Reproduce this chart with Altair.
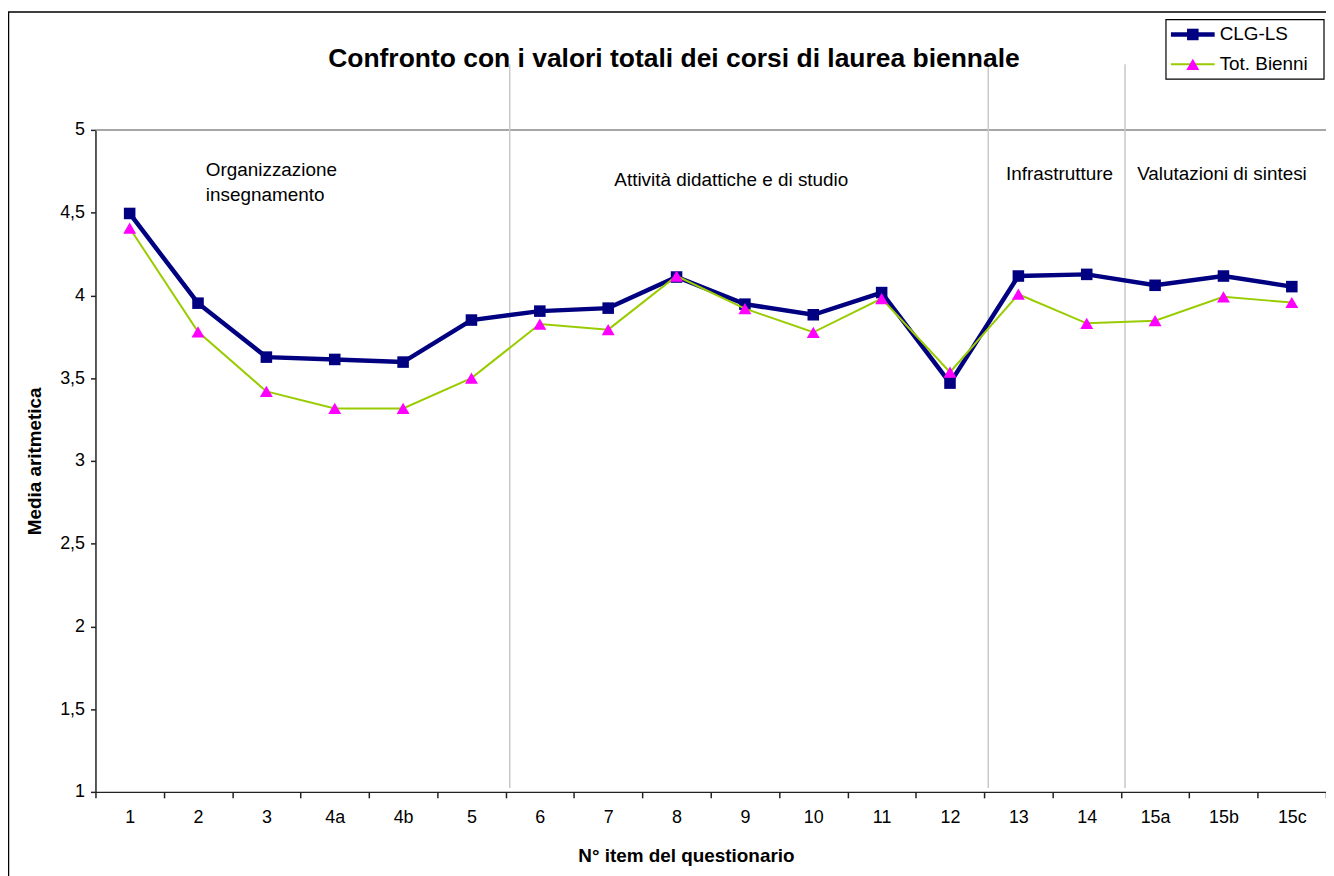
import altair as alt
import pandas as pd

FONT = "Liberation Sans"

items = ["1", "2", "3", "4a", "4b", "5", "6", "7", "8", "9", "10", "11", "12",
         "13", "14", "15a", "15b", "15c"]
clg_ls = [4.495, 3.953, 3.627, 3.613, 3.597, 3.851, 3.905, 3.923, 4.111, 3.947,
          3.883, 4.017, 3.470, 4.117, 4.127, 4.061, 4.117, 4.053]
tot_bienni = [4.407, 3.780, 3.420, 3.317, 3.317, 3.500, 3.827, 3.793, 4.117, 3.920,
              3.777, 3.981, 3.536, 4.007, 3.831, 3.847, 3.991, 3.957]
series_names = ["CLG-LS", "Tot. Bienni"]
y_ticks = [1, 1.5, 2, 2.5, 3, 3.5, 4, 4.5, 5]
separator_items = ["6", "13", "15a"]
title_text = "Confronto con i valori totali dei corsi di laurea biennale"

W = 1238
H = 666

df = pd.DataFrame({
    "item": items * 2,
    "serie": [series_names[0]] * len(items) + [series_names[1]] * len(items),
    "valore": clg_ls + tot_bienni,
})
sep_df = pd.DataFrame({"item": separator_items})
one = pd.DataFrame({"k": [0]})

x_scale = alt.Scale(type="band", domain=items, paddingInner=0, paddingOuter=0)
x_axis = alt.Axis(
    title="N° item del questionario", tickBand="extent", labelAngle=0,
    labelFontSize=18, labelFont=FONT, labelColor="black", labelPadding=11,
    tickSize=6, tickColor="#222", tickWidth=1.5, domainColor="#222", domainWidth=1.5,
    titleFontSize=19, titleFont=FONT, titleFontWeight="bold", titleColor="black",
    titleX=594, titleY=64, titleAlign="center", titleBaseline="middle", grid=False,
)
y_scale = alt.Scale(domain=[1, 5], nice=False, zero=False)
y_axis = alt.Axis(
    title="Media aritmetica", values=y_ticks,
    labelExpr="replace(format(datum.value, '.1~f'), '.', ',')",
    labelFontSize=18, labelFont=FONT, labelColor="black", labelPadding=6,
    tickSize=5, tickColor="#222", tickWidth=1.5, domainColor="#222", domainWidth=1.5,
    titleFontSize=19, titleFont=FONT, titleFontWeight="bold", titleColor="black",
    titleX=-61, titleY=H / 2, titleAlign="center", titleBaseline="middle",
    titleAngle=270, grid=False,
)

X = alt.X("item:N", sort=items, scale=x_scale, axis=x_axis, bandPosition=0.5)
Y = alt.Y("valore:Q", scale=y_scale, axis=y_axis)

base = alt.Chart(df)
line1 = base.transform_filter(alt.datum.serie == series_names[0]).mark_line(
    color="#000080", strokeWidth=4.5).encode(x=X, y=Y)
pts1 = base.transform_filter(alt.datum.serie == series_names[0]).mark_point(
    shape="square", filled=True, color="#000080", size=135, opacity=1).encode(x=X, y=Y)
line2 = base.transform_filter(alt.datum.serie == series_names[1]).mark_line(
    color="#99CC00", strokeWidth=2).encode(x=X, y=Y)
pts2 = base.transform_filter(alt.datum.serie == series_names[1]).mark_point(
    shape="triangle-up", filled=True, color="#FF00FF", size=170, opacity=1).encode(x=X, y=Y)

top_line = alt.Chart(one).mark_rule(color="#888888", strokeWidth=1.5).encode(
    x=alt.value(0), x2=alt.value(W), y=alt.value(0))

seps = alt.Chart(sep_df).mark_rule(color="#C8C8C8", strokeWidth=1.5).encode(
    x=alt.X("item:N", sort=items, scale=x_scale, axis=x_axis, bandPosition=0.06),
    y=alt.value(-66), y2=alt.value(662))

frame = alt.Chart(one).mark_rect(fill=None, stroke="black", strokeWidth=1.5).encode(
    x=alt.value(-87.5), y=alt.value(-118.5), x2=alt.value(3000), y2=alt.value(3000))

def txt(text, x, y, size=19, weight="normal", align="left"):
    return alt.Chart(one).mark_text(
        text=text, font=FONT, fontSize=size, fontWeight=weight, color="black",
        align=align, baseline="middle").encode(x=alt.value(x), y=alt.value(y))

title = txt(title_text, 582, -71, size=26.6, weight="bold", align="center")
ann = [
    txt("Organizzazione", 111, 40),
    txt("insegnamento", 111, 66),
    txt("Attività didattiche e di studio", 522, 50),
    txt("Infrastrutture", 916, 44),
    txt("Valutazioni di sintesi", 1048, 44),
]

# legend
leg_box = alt.Chart(one).mark_rect(fill="white", stroke="black", strokeWidth=1.2).encode(
    x=alt.value(1077), x2=alt.value(1236), y=alt.value(-111), y2=alt.value(-51))
leg_l1 = alt.Chart(one).mark_rule(color="#000080", strokeWidth=4.5).encode(
    x=alt.value(1082), x2=alt.value(1126), y=alt.value(-96))
leg_p1 = alt.Chart(one).mark_point(shape="square", filled=True, color="#000080", size=135, opacity=1).encode(
    x=alt.value(1104), y=alt.value(-96))
leg_l2 = alt.Chart(one).mark_rule(color="#99CC00", strokeWidth=2).encode(
    x=alt.value(1082), x2=alt.value(1126), y=alt.value(-66))
leg_p2 = alt.Chart(one).mark_point(shape="triangle-up", filled=True, color="#FF00FF", size=170, opacity=1).encode(
    x=alt.value(1104), y=alt.value(-66))
leg_t1 = txt(series_names[0], 1131, -96, size=19)
leg_t2 = txt(series_names[1], 1131, -66, size=19)

chart = alt.layer(
    frame, top_line, seps, line1, pts1, line2, pts2, title, *ann,
    leg_box, leg_l1, leg_p1, leg_l2, leg_p2, leg_t1, leg_t2,
).properties(
    width=W, height=H, autosize="none",
    padding={"left": 88, "top": 120, "right": 0, "bottom": 82},
    background="white",
).configure_view(strokeWidth=0)

chart.save("out.html", embed_options={"renderer": "svg", "actions": False})
